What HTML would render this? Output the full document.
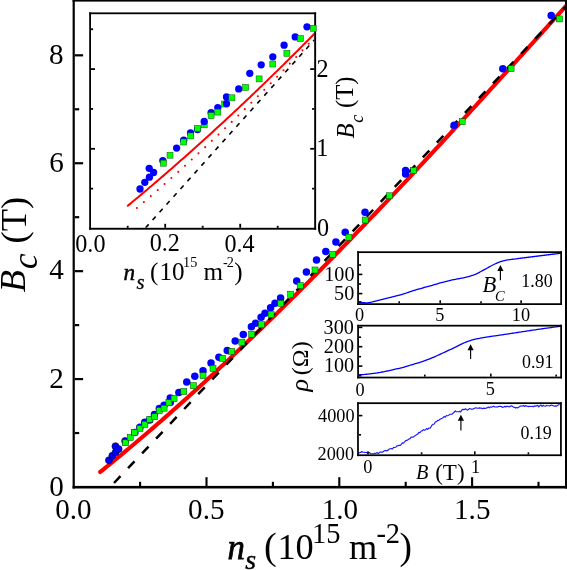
<!DOCTYPE html>
<html><head><meta charset="utf-8"><style>
html,body{margin:0;padding:0;background:#fff;}
svg{display:block;font-family:"Liberation Serif",serif;}
svg{will-change:transform;}
</style></head><body>
<svg width="567" height="570" viewBox="0 0 567 570">
<rect width="567" height="570" fill="#fff"/>
<defs><clipPath id="cm"><rect x="74.8" y="1.6" width="490.2" height="484.3"/></clipPath><clipPath id="ci"><rect x="91" y="14.2" width="223.2" height="213.6"/></clipPath></defs>
<g clip-path="url(#cm)">
<polyline points="100.21,471.97 102.57,470.07 104.93,468.16 107.29,466.25 109.66,464.33 112.02,462.4 114.38,460.47 116.75,458.52 119.11,456.58 121.47,454.62 123.83,452.66 126.2,450.7 128.56,448.72 130.92,446.74 133.28,444.76 135.65,442.77 138.01,440.77 140.37,438.76 142.73,436.75 145.1,434.74 147.46,432.71 149.82,430.68 152.18,428.65 154.55,426.61 156.91,424.56 159.27,422.51 161.64,420.45 164,418.38 166.36,416.31 168.72,414.23 171.09,412.15 173.45,410.06 175.81,407.97 178.17,405.87 180.54,403.76 182.9,401.65 185.26,399.53 187.62,397.41 189.99,395.28 192.35,393.14 194.71,391 197.08,388.86 199.44,386.71 201.8,384.55 204.16,382.39 206.53,380.22 208.89,378.05 211.25,375.87 213.61,373.69 215.98,371.5 218.34,369.31 220.7,367.11 223.06,364.91 225.43,362.7 227.79,360.48 230.15,358.26 232.51,356.04 234.88,353.81 237.24,351.57 239.6,349.34 241.97,347.09 244.33,344.84 246.69,342.59 249.05,340.33 251.42,338.06 253.78,335.8 256.14,333.52 258.5,331.24 260.87,328.96 263.23,326.67 265.59,324.38 267.95,322.09 270.32,319.78 272.68,317.48 275.04,315.17 277.4,312.85 279.77,310.53 282.13,308.21 284.49,305.88 286.86,303.55 289.22,301.21 291.58,298.87 293.94,296.53 296.31,294.18 298.67,291.82 301.03,289.47 303.39,287.1 305.76,284.74 308.12,282.37 310.48,279.99 312.84,277.62 315.21,275.23 317.57,272.85 319.93,270.46 322.29,268.06 324.66,265.66 327.02,263.26 329.38,260.86 331.75,258.45 334.11,256.03 336.47,253.62 338.83,251.2 341.2,248.77 343.56,246.34 345.92,243.91 348.28,241.48 350.65,239.04 353.01,236.6 355.37,234.15 357.73,231.7 360.1,229.25 362.46,226.79 364.82,224.34 367.19,221.87 369.55,219.41 371.91,216.94 374.27,214.47 376.64,211.99 379,209.51 381.36,207.03 383.72,204.54 386.09,202.06 388.45,199.57 390.81,197.07 393.17,194.57 395.54,192.07 397.9,189.57 400.26,187.06 402.62,184.56 404.99,182.04 407.35,179.53 409.71,177.01 412.08,174.49 414.44,171.97 416.8,169.44 419.16,166.92 421.53,164.39 423.89,161.85 426.25,159.32 428.61,156.78 430.98,154.24 433.34,151.69 435.7,149.15 438.06,146.6 440.43,144.05 442.79,141.5 445.15,138.94 447.51,136.38 449.88,133.82 452.24,131.26 454.6,128.7 456.97,126.13 459.33,123.56 461.69,120.99 464.05,118.42 466.42,115.84 468.78,113.27 471.14,110.69 473.5,108.11 475.87,105.52 478.23,102.94 480.59,100.35 482.95,97.76 485.32,95.17 487.68,92.58 490.04,89.99 492.4,87.39 494.77,84.8 497.13,82.2 499.49,79.6 501.86,76.99 504.22,74.39 506.58,71.79 508.94,69.18 511.31,66.57 513.67,63.96 516.03,61.35 518.39,58.74 520.76,56.13 523.12,53.51 525.48,50.89 527.84,48.28 530.21,45.66 532.57,43.04 534.93,40.42 537.3,37.79 539.66,35.17 542.02,32.55 544.38,29.92 546.75,27.29 549.11,24.67 551.47,22.04 553.83,19.41 556.2,16.78 558.56,14.15 560.92,11.52 563.28,8.88 565.65,6.25 568.01,3.61 570.37,0.98" fill="none" stroke="#f00" stroke-width="4.1" stroke-linecap="round" stroke-linejoin="round"/>
<line x1="110.22" y1="487" x2="578.34" y2="-6.59" stroke="#000" stroke-width="2.5" stroke-dasharray="9.4 11.0" stroke-dashoffset="-5.5"/>
<circle cx="108.97" cy="460.26" r="3.55" fill="#00f" stroke="#000030" stroke-width="0.6"/>
<circle cx="112.37" cy="455.72" r="3.55" fill="#00f" stroke="#000030" stroke-width="0.6"/>
<circle cx="115.63" cy="452.27" r="3.55" fill="#00f" stroke="#000030" stroke-width="0.6"/>
<circle cx="115.49" cy="446.24" r="3.55" fill="#00f" stroke="#000030" stroke-width="0.6"/>
<circle cx="118.6" cy="449.09" r="3.55" fill="#00f" stroke="#000030" stroke-width="0.6"/>
<circle cx="125.12" cy="441.03" r="3.55" fill="#00f" stroke="#000030" stroke-width="0.6"/>
<circle cx="134.89" cy="432.57" r="3.75" fill="#00f"/>
<circle cx="139.92" cy="427.22" r="3.75" fill="#00f"/>
<circle cx="144.74" cy="422.34" r="3.75" fill="#00f"/>
<circle cx="149.7" cy="419.97" r="3.75" fill="#00f"/>
<circle cx="154.44" cy="414.56" r="3.75" fill="#00f"/>
<circle cx="159.33" cy="408.6" r="3.75" fill="#00f"/>
<circle cx="164.07" cy="405.15" r="3.75" fill="#00f"/>
<circle cx="170.24" cy="397.97" r="3.75" fill="#00f"/>
<circle cx="170.24" cy="402.51" r="3.75" fill="#00f"/>
<circle cx="178.88" cy="392.49" r="3.75" fill="#00f"/>
<circle cx="186.74" cy="381.92" r="3.75" fill="#00f"/>
<circle cx="194.81" cy="376.17" r="3.75" fill="#00f"/>
<circle cx="203.03" cy="370.75" r="3.75" fill="#00f"/>
<circle cx="211.03" cy="362.9" r="3.75" fill="#00f"/>
<circle cx="218.89" cy="357.28" r="3.75" fill="#00f"/>
<circle cx="227.25" cy="350.44" r="3.75" fill="#00f"/>
<circle cx="235.2" cy="340.9" r="3.75" fill="#00f"/>
<circle cx="243.3" cy="334.4" r="3.75" fill="#00f"/>
<circle cx="251.4" cy="326.7" r="3.75" fill="#00f"/>
<circle cx="255.6" cy="323.3" r="3.75" fill="#00f"/>
<circle cx="261.1" cy="317.2" r="3.75" fill="#00f"/>
<circle cx="265" cy="313.3" r="3.75" fill="#00f"/>
<circle cx="270.6" cy="307.8" r="3.75" fill="#00f"/>
<circle cx="275" cy="303.3" r="3.75" fill="#00f"/>
<circle cx="280.6" cy="298" r="3.75" fill="#00f"/>
<circle cx="296.7" cy="281.1" r="3.75" fill="#00f"/>
<circle cx="306.4" cy="272" r="3.75" fill="#00f"/>
<circle cx="316.5" cy="260.1" r="3.75" fill="#00f"/>
<circle cx="325.8" cy="251.5" r="3.75" fill="#00f"/>
<circle cx="335.9" cy="242" r="3.75" fill="#00f"/>
<circle cx="345.2" cy="232.2" r="3.75" fill="#00f"/>
<circle cx="365" cy="212.3" r="3.75" fill="#00f"/>
<circle cx="405.6" cy="170.6" r="3.75" fill="#00f"/>
<circle cx="405.6" cy="173.9" r="3.75" fill="#00f"/>
<circle cx="454.1" cy="125.3" r="3.75" fill="#00f"/>
<circle cx="502.8" cy="68.7" r="3.75" fill="#00f"/>
<circle cx="551.2" cy="15.6" r="3.75" fill="#00f"/>
<rect x="122.55" y="439.79" width="6.0" height="6.0" fill="#0f0" stroke="#004000" stroke-width="0.5"/>
<rect x="127.22" y="434.37" width="6.0" height="6.0" fill="#0f0" stroke="#004000" stroke-width="0.5"/>
<rect x="136.92" y="425.44" width="6.0" height="6.0" fill="#0f0" stroke="#004000" stroke-width="0.5"/>
<rect x="141.88" y="421.31" width="6.0" height="6.0" fill="#0f0" stroke="#004000" stroke-width="0.5"/>
<rect x="146.77" y="416.23" width="6.0" height="6.0" fill="#0f0" stroke="#004000" stroke-width="0.5"/>
<rect x="151.44" y="413.79" width="6.0" height="6.0" fill="#0f0" stroke="#004000" stroke-width="0.5"/>
<rect x="156.33" y="407.56" width="6.0" height="6.0" fill="#0f0" stroke="#004000" stroke-width="0.5"/>
<rect x="161.07" y="405.19" width="6.0" height="6.0" fill="#0f0" stroke="#004000" stroke-width="0.5"/>
<rect x="165.89" y="399.71" width="6.0" height="6.0" fill="#0f0" stroke="#004000" stroke-width="0.5"/>
<rect x="171.06" y="395.51" width="6.0" height="6.0" fill="#0f0" stroke="#004000" stroke-width="0.5"/>
<rect x="180.76" y="388.47" width="6.0" height="6.0" fill="#0f0" stroke="#004000" stroke-width="0.5"/>
<rect x="190.33" y="382.71" width="6.0" height="6.0" fill="#0f0" stroke="#004000" stroke-width="0.5"/>
<rect x="200.03" y="372.63" width="6.0" height="6.0" fill="#0f0" stroke="#004000" stroke-width="0.5"/>
<rect x="210.02" y="365.38" width="6.0" height="6.0" fill="#0f0" stroke="#004000" stroke-width="0.5"/>
<rect x="219.58" y="355.36" width="6.0" height="6.0" fill="#0f0" stroke="#004000" stroke-width="0.5"/>
<rect x="228.71" y="348.39" width="6.0" height="6.0" fill="#0f0" stroke="#004000" stroke-width="0.5"/>
<rect x="238.9" y="339.2" width="6.0" height="6.0" fill="#0f0" stroke="#004000" stroke-width="0.5"/>
<rect x="248.7" y="331.2" width="6.0" height="6.0" fill="#0f0" stroke="#004000" stroke-width="0.5"/>
<rect x="258.4" y="321.7" width="6.0" height="6.0" fill="#0f0" stroke="#004000" stroke-width="0.5"/>
<rect x="268.1" y="311.7" width="6.0" height="6.0" fill="#0f0" stroke="#004000" stroke-width="0.5"/>
<rect x="277.8" y="300.3" width="6.0" height="6.0" fill="#0f0" stroke="#004000" stroke-width="0.5"/>
<rect x="287.6" y="291.2" width="6.0" height="6.0" fill="#0f0" stroke="#004000" stroke-width="0.5"/>
<rect x="297.2" y="282.6" width="6.0" height="6.0" fill="#0f0" stroke="#004000" stroke-width="0.5"/>
<rect x="312" y="267" width="6.0" height="6.0" fill="#0f0" stroke="#004000" stroke-width="0.5"/>
<rect x="329.8" y="251.4" width="6.0" height="6.0" fill="#0f0" stroke="#004000" stroke-width="0.5"/>
<rect x="345.9" y="234.2" width="6.0" height="6.0" fill="#0f0" stroke="#004000" stroke-width="0.5"/>
<rect x="362.2" y="217" width="6.0" height="6.0" fill="#0f0" stroke="#004000" stroke-width="0.5"/>
<rect x="386.4" y="192.8" width="6.0" height="6.0" fill="#0f0" stroke="#004000" stroke-width="0.5"/>
<rect x="410.7" y="167.6" width="6.0" height="6.0" fill="#0f0" stroke="#004000" stroke-width="0.5"/>
<rect x="459.2" y="118.7" width="6.0" height="6.0" fill="#0f0" stroke="#004000" stroke-width="0.5"/>
<rect x="508.1" y="65.6" width="6.0" height="6.0" fill="#0f0" stroke="#004000" stroke-width="0.5"/>
<rect x="556.5" y="15.9" width="6.0" height="6.0" fill="#0f0" stroke="#004000" stroke-width="0.5"/>
<rect x="131.6" y="429.5" width="6.0" height="6.0" fill="#0f0" stroke="#004000" stroke-width="0.5"/>
</g>
<rect x="72.6" y="0" width="2.2" height="488.5" fill="#000"/>
<rect x="72.6" y="485.9" width="494.4" height="2.6" fill="#000"/>
<rect x="565" y="0" width="2" height="488.5" fill="#000"/>
<rect x="72.6" y="0" width="494.4" height="1.6" fill="#000"/>
<rect x="74.8" y="377.98" width="8.3" height="2.2" fill="#000"/>
<rect x="74.8" y="270.06" width="8.3" height="2.2" fill="#000"/>
<rect x="74.8" y="162.14" width="8.3" height="2.2" fill="#000"/>
<rect x="74.8" y="54.22" width="8.3" height="2.2" fill="#000"/>
<rect x="74.8" y="431.94" width="4.4" height="2.2" fill="#000"/>
<rect x="74.8" y="324.02" width="4.4" height="2.2" fill="#000"/>
<rect x="74.8" y="216.1" width="4.4" height="2.2" fill="#000"/>
<rect x="74.8" y="108.18" width="4.4" height="2.2" fill="#000"/>
<rect x="205.45" y="477.2" width="2.1" height="8.8" fill="#000"/>
<rect x="338.25" y="477.2" width="2.1" height="8.8" fill="#000"/>
<rect x="471.05" y="477.2" width="2.1" height="8.8" fill="#000"/>
<rect x="139.05" y="481.8" width="2.1" height="4.2" fill="#000"/>
<rect x="271.85" y="481.8" width="2.1" height="4.2" fill="#000"/>
<rect x="404.65" y="481.8" width="2.1" height="4.2" fill="#000"/>
<rect x="537.45" y="481.8" width="2.1" height="4.2" fill="#000"/>
<rect x="90.1" y="13.3" width="225.1" height="215.5" fill="#fff"/>
<g clip-path="url(#ci)">
<polyline points="127.8,205.76 129.47,204.38 131.14,202.99 132.81,201.6 134.48,200.21 136.15,198.82 137.82,197.42 139.49,196.02 141.15,194.62 142.82,193.21 144.49,191.8 146.16,190.39 147.83,188.98 149.5,187.56 151.17,186.14 152.84,184.72 154.51,183.3 156.18,181.87 157.85,180.44 159.52,179 161.19,177.57 162.86,176.13 164.53,174.68 166.19,173.24 167.86,171.79 169.53,170.34 171.2,168.89 172.87,167.43 174.54,165.97 176.21,164.51 177.88,163.05 179.55,161.58 181.22,160.11 182.89,158.63 184.56,157.16 186.23,155.68 187.9,154.2 189.57,152.71 191.23,151.23 192.9,149.74 194.57,148.24 196.24,146.75 197.91,145.25 199.58,143.75 201.25,142.24 202.92,140.74 204.59,139.23 206.26,137.71 207.93,136.2 209.6,134.68 211.27,133.16 212.94,131.64 214.61,130.11 216.27,128.58 217.94,127.05 219.61,125.51 221.28,123.97 222.95,122.43 224.62,120.89 226.29,119.34 227.96,117.79 229.63,116.24 231.3,114.69 232.97,113.13 234.64,111.57 236.31,110 237.98,108.44 239.64,106.87 241.31,105.3 242.98,103.72 244.65,102.15 246.32,100.57 247.99,98.98 249.66,97.4 251.33,95.81 253,94.22 254.67,92.62 256.34,91.03 258.01,89.43 259.68,87.82 261.35,86.22 263.02,84.61 264.68,83 266.35,81.38 268.02,79.77 269.69,78.15 271.36,76.52 273.03,74.9 274.7,73.27 276.37,71.64 278.04,70.01 279.71,68.37 281.38,66.73 283.05,65.09 284.72,63.44 286.39,61.79 288.06,60.14 289.72,58.49 291.39,56.83 293.06,55.18 294.73,53.51 296.4,51.85 298.07,50.18 299.74,48.51 301.41,46.84 303.08,45.16 304.75,43.48 306.42,41.8 308.09,40.12 309.76,38.43 311.43,36.74 313.1,35.05 314.76,33.35 316.43,31.65 318.1,29.95 319.77,28.25 321.44,26.54 323.11,24.83 324.78,23.12 326.45,21.4" fill="none" stroke="#f00" stroke-width="2" stroke-linecap="round"/>
<polyline points="136.9,208.02 138.49,206.67 140.09,205.31 141.68,203.95 143.27,202.59 144.86,201.22 146.46,199.85 148.05,198.48 149.64,197.1 151.24,195.72 152.83,194.34 154.42,192.95 156.01,191.56 157.61,190.17 159.2,188.77 160.79,187.38 162.39,185.97 163.98,184.57 165.57,183.16 167.16,181.75 168.76,180.34 170.35,178.92 171.94,177.5 173.54,176.07 175.13,174.65 176.72,173.22 178.31,171.78 179.91,170.35 181.5,168.91 183.09,167.47 184.69,166.02 186.28,164.57 187.87,163.12 189.46,161.66 191.06,160.2 192.65,158.74 194.24,157.28 195.84,155.81 197.43,154.34 199.02,152.87 200.61,151.39 202.21,149.91 203.8,148.42 205.39,146.94 206.99,145.45 208.58,143.95 210.17,142.46 211.76,140.96 213.36,139.46 214.95,137.95 216.54,136.44 218.14,134.93 219.73,133.42 221.32,131.9 222.91,130.38 224.51,128.85 226.1,127.32 227.69,125.79 229.29,124.26 230.88,122.72 232.47,121.18 234.06,119.64 235.66,118.09 237.25,116.54 238.84,114.99 240.44,113.43 242.03,111.87 243.62,110.31 245.21,108.75 246.81,107.18 248.4,105.6 249.99,104.03 251.59,102.45 253.18,100.87 254.77,99.29 256.36,97.7 257.96,96.11 259.55,94.51 261.14,92.92 262.74,91.32 264.33,89.71 265.92,88.11 267.51,86.5 269.11,84.88 270.7,83.27 272.29,81.65 273.89,80.03 275.48,78.4 277.07,76.77 278.66,75.14 280.26,73.51 281.85,71.87 283.44,70.23 285.04,68.58 286.63,66.94 288.22,65.28 289.81,63.63 291.41,61.97 293,60.31 294.59,58.65 296.19,56.98 297.78,55.32 299.37,53.64 300.96,51.97 302.56,50.29 304.15,48.61 305.74,46.92 307.34,45.23 308.93,43.54 310.52,41.85 312.11,40.15 313.71,38.45 315.3,36.74 316.89,35.04 318.49,33.32 320.08,31.61 321.67,29.89 323.26,28.17 324.86,26.45 326.45,24.73" fill="none" stroke="#f00" stroke-width="2.1" stroke-linecap="round" stroke-dasharray="0 9.15"/>
<line x1="145.6" y1="227.8" x2="317" y2="36.95" stroke="#000" stroke-width="1.6" stroke-dasharray="4.6 5.85"/>
<circle cx="140" cy="189" r="3.65" fill="#00f"/>
<circle cx="144.8" cy="182.3" r="3.65" fill="#00f"/>
<circle cx="149.4" cy="177.2" r="3.65" fill="#00f"/>
<circle cx="149.2" cy="168.3" r="3.65" fill="#00f"/>
<circle cx="153.6" cy="172.5" r="3.65" fill="#00f"/>
<circle cx="162.8" cy="160.6" r="3.65" fill="#00f"/>
<circle cx="183.7" cy="140.2" r="3.65" fill="#00f"/>
<circle cx="190.5" cy="133" r="3.65" fill="#00f"/>
<circle cx="197.5" cy="129.5" r="3.65" fill="#00f"/>
<circle cx="211.1" cy="112.7" r="3.65" fill="#00f"/>
<circle cx="217.8" cy="107.6" r="3.65" fill="#00f"/>
<circle cx="226.5" cy="97" r="3.65" fill="#00f"/>
<circle cx="295.2" cy="36.9" r="3.65" fill="#00f"/>
<circle cx="307" cy="26.8" r="3.65" fill="#00f"/>
<rect x="160.4" y="160.2" width="6.0" height="6.0" fill="#0f0" stroke="#006000" stroke-width="0.5"/>
<rect x="167" y="152.2" width="6.0" height="6.0" fill="#0f0" stroke="#006000" stroke-width="0.5"/>
<rect x="180.7" y="139" width="6.0" height="6.0" fill="#0f0" stroke="#006000" stroke-width="0.5"/>
<rect x="187.7" y="132.9" width="6.0" height="6.0" fill="#0f0" stroke="#006000" stroke-width="0.5"/>
<rect x="194.6" y="125.4" width="6.0" height="6.0" fill="#0f0" stroke="#006000" stroke-width="0.5"/>
<rect x="201.2" y="121.8" width="6.0" height="6.0" fill="#0f0" stroke="#006000" stroke-width="0.5"/>
<rect x="208.1" y="112.6" width="6.0" height="6.0" fill="#0f0" stroke="#006000" stroke-width="0.5"/>
<rect x="214.8" y="109.1" width="6.0" height="6.0" fill="#0f0" stroke="#006000" stroke-width="0.5"/>
<rect x="221.6" y="101" width="6.0" height="6.0" fill="#0f0" stroke="#006000" stroke-width="0.5"/>
<rect x="228.9" y="94.8" width="6.0" height="6.0" fill="#0f0" stroke="#006000" stroke-width="0.5"/>
<rect x="242.6" y="84.4" width="6.0" height="6.0" fill="#0f0" stroke="#006000" stroke-width="0.5"/>
<rect x="256.1" y="75.9" width="6.0" height="6.0" fill="#0f0" stroke="#006000" stroke-width="0.5"/>
<rect x="269.8" y="61" width="6.0" height="6.0" fill="#0f0" stroke="#006000" stroke-width="0.5"/>
<rect x="283.9" y="50.3" width="6.0" height="6.0" fill="#0f0" stroke="#006000" stroke-width="0.5"/>
<rect x="297.4" y="35.5" width="6.0" height="6.0" fill="#0f0" stroke="#006000" stroke-width="0.5"/>
<circle cx="176.6" cy="148.1" r="3.65" fill="#00f"/>
<circle cx="204.2" cy="121.5" r="3.65" fill="#00f"/>
<circle cx="226.5" cy="103.7" r="3.65" fill="#00f"/>
<circle cx="238.7" cy="88.9" r="3.65" fill="#00f"/>
<circle cx="249.8" cy="73.3" r="3.65" fill="#00f"/>
<circle cx="261.2" cy="64.8" r="3.65" fill="#00f"/>
<circle cx="272.8" cy="56.8" r="3.65" fill="#00f"/>
<circle cx="284.1" cy="45.2" r="3.65" fill="#00f"/>
</g>
<rect x="89.2" y="12.4" width="1.8" height="217.3" fill="#000"/>
<rect x="314.2" y="12.4" width="1.9" height="217.3" fill="#000"/>
<rect x="89.2" y="12.4" width="226.9" height="1.8" fill="#000"/>
<rect x="89.2" y="227.8" width="226.9" height="1.9" fill="#000"/>
<rect x="91" y="147.9" width="4" height="1.8" fill="#000"/>
<rect x="310.2" y="147.9" width="4" height="1.8" fill="#000"/>
<rect x="91" y="68.2" width="4" height="1.8" fill="#000"/>
<rect x="310.2" y="68.2" width="4" height="1.8" fill="#000"/>
<rect x="91" y="187.75" width="2.1" height="1.8" fill="#000"/>
<rect x="312.1" y="187.75" width="2.1" height="1.8" fill="#000"/>
<rect x="91" y="108.05" width="2.1" height="1.8" fill="#000"/>
<rect x="312.1" y="108.05" width="2.1" height="1.8" fill="#000"/>
<rect x="91" y="28.35" width="2.1" height="1.8" fill="#000"/>
<rect x="312.1" y="28.35" width="2.1" height="1.8" fill="#000"/>
<rect x="164.3" y="223.8" width="1.8" height="4" fill="#000"/>
<rect x="239.3" y="223.8" width="1.8" height="4" fill="#000"/>
<rect x="126.8" y="225.8" width="1.8" height="2" fill="#000"/>
<rect x="201.8" y="225.8" width="1.8" height="2" fill="#000"/>
<rect x="276.8" y="225.8" width="1.8" height="2" fill="#000"/>
<rect x="310.4" y="25.25" width="5.8" height="6.0" fill="#0f0" stroke="#006000" stroke-width="0.5"/>
<rect x="357.2" y="251.3" width="204.8" height="53.7" fill="#fff"/>
<rect x="357.2" y="324.8" width="204.8" height="53.6" fill="#fff"/>
<rect x="357.1" y="402.3" width="204.7" height="53.8" fill="#fff"/>
<polyline points="358.4,302 359.4,302.26 360.4,302.5 361.4,302.65 362.4,302.71 363.4,302.75 364.4,302.77 365.4,302.79 366.4,302.8 367.4,302.79 368.4,302.7 369.4,302.54 370.4,302.34 371.4,302.12 372.4,301.92 373.4,301.68 374.4,301.42 375.4,301.15 376.4,300.9 377.4,300.66 378.4,300.41 379.4,300.17 380.4,299.93 381.4,299.68 382.4,299.44 383.4,299.2 384.4,298.95 385.4,298.7 386.4,298.45 387.4,298.2 388.4,297.94 389.4,297.69 390.4,297.43 391.4,297.17 392.4,296.92 393.4,296.66 394.4,296.4 395.4,296.14 396.4,295.88 397.4,295.62 398.4,295.37 399.4,295.1 400.4,294.84 401.4,294.56 402.4,294.28 403.4,293.98 404.4,293.67 405.4,293.34 406.4,293 407.4,292.66 408.4,292.31 409.4,291.96 410.4,291.62 411.4,291.29 412.4,290.97 413.4,290.66 414.4,290.35 415.4,290.05 416.4,289.74 417.4,289.44 418.4,289.15 419.4,288.86 420.4,288.57 421.4,288.29 422.4,288.01 423.4,287.75 424.4,287.49 425.4,287.23 426.4,286.97 427.4,286.71 428.4,286.44 429.4,286.17 430.4,285.89 431.4,285.59 432.4,285.29 433.4,284.99 434.4,284.68 435.4,284.37 436.4,284.07 437.4,283.77 438.4,283.47 439.4,283.19 440.4,282.91 441.4,282.63 442.4,282.35 443.4,282.08 444.4,281.81 445.4,281.55 446.4,281.29 447.4,281.04 448.4,280.81 449.4,280.58 450.4,280.36 451.4,280.14 452.4,279.93 453.4,279.73 454.4,279.52 455.4,279.32 456.4,279.13 457.4,278.94 458.4,278.76 459.4,278.58 460.4,278.4 461.4,278.22 462.4,278.03 463.4,277.82 464.4,277.6 465.4,277.37 466.4,277.13 467.4,276.88 468.4,276.61 469.4,276.34 470.4,276.05 471.4,275.74 472.4,275.42 473.4,275.08 474.4,274.71 475.4,274.3 476.4,273.85 477.4,273.36 478.4,272.84 479.4,272.31 480.4,271.76 481.4,271.22 482.4,270.68 483.4,270.15 484.4,269.62 485.4,269.07 486.4,268.51 487.4,267.95 488.4,267.39 489.4,266.83 490.4,266.29 491.4,265.76 492.4,265.25 493.4,264.76 494.4,264.26 495.4,263.77 496.4,263.3 497.4,262.84 498.4,262.41 499.4,262.02 500.4,261.67 501.4,261.35 502.4,261.05 503.4,260.77 504.4,260.52 505.4,260.3 506.4,260.11 507.4,259.94 508.4,259.79 509.4,259.65 510.4,259.52 511.4,259.39 512.4,259.27 513.4,259.15 514.4,259.03 515.4,258.9 516.4,258.77 517.4,258.64 518.4,258.51 519.4,258.38 520.4,258.26 521.4,258.13 522.4,258.01 523.4,257.88 524.4,257.76 525.4,257.64 526.4,257.51 527.4,257.39 528.4,257.26 529.4,257.14 530.4,257.01 531.4,256.89 532.4,256.76 533.4,256.63 534.4,256.51 535.4,256.38 536.4,256.25 537.4,256.13 538.4,256 539.4,255.88 540.4,255.75 541.4,255.62 542.4,255.5 543.4,255.37 544.4,255.25 545.4,255.12 546.4,255 547.4,254.88 548.4,254.75 549.4,254.63 550.4,254.51 551.4,254.39 552.4,254.26 553.4,254.14 554.4,254.02 555.4,253.9 556.4,253.78 557.4,253.66 558.4,253.54 559.4,253.42 560.4,253.3 561.2,253.2" fill="none" stroke="#00f" stroke-width="1.3" stroke-linejoin="round"/>
<polyline points="358.4,374.9 359.4,374.84 360.4,374.77 361.4,374.69 362.4,374.61 363.4,374.53 364.4,374.44 365.4,374.35 366.4,374.26 367.4,374.16 368.4,374.06 369.4,373.95 370.4,373.83 371.4,373.72 372.4,373.59 373.4,373.46 374.4,373.33 375.4,373.19 376.4,373.04 377.4,372.89 378.4,372.73 379.4,372.55 380.4,372.38 381.4,372.19 382.4,372.01 383.4,371.81 384.4,371.62 385.4,371.42 386.4,371.21 387.4,371 388.4,370.78 389.4,370.56 390.4,370.33 391.4,370.1 392.4,369.87 393.4,369.64 394.4,369.41 395.4,369.18 396.4,368.96 397.4,368.74 398.4,368.51 399.4,368.28 400.4,368.05 401.4,367.81 402.4,367.56 403.4,367.29 404.4,367.02 405.4,366.73 406.4,366.43 407.4,366.12 408.4,365.81 409.4,365.5 410.4,365.19 411.4,364.88 412.4,364.58 413.4,364.29 414.4,363.99 415.4,363.7 416.4,363.41 417.4,363.12 418.4,362.82 419.4,362.51 420.4,362.2 421.4,361.87 422.4,361.53 423.4,361.18 424.4,360.83 425.4,360.46 426.4,360.09 427.4,359.71 428.4,359.33 429.4,358.94 430.4,358.54 431.4,358.13 432.4,357.71 433.4,357.29 434.4,356.85 435.4,356.41 436.4,355.97 437.4,355.52 438.4,355.07 439.4,354.62 440.4,354.16 441.4,353.7 442.4,353.23 443.4,352.76 444.4,352.29 445.4,351.82 446.4,351.35 447.4,350.88 448.4,350.42 449.4,349.96 450.4,349.51 451.4,349.06 452.4,348.61 453.4,348.15 454.4,347.69 455.4,347.21 456.4,346.7 457.4,346.18 458.4,345.65 459.4,345.12 460.4,344.61 461.4,344.11 462.4,343.64 463.4,343.2 464.4,342.77 465.4,342.34 466.4,341.93 467.4,341.54 468.4,341.17 469.4,340.82 470.4,340.51 471.4,340.21 472.4,339.94 473.4,339.67 474.4,339.43 475.4,339.19 476.4,338.96 477.4,338.74 478.4,338.53 479.4,338.33 480.4,338.14 481.4,337.95 482.4,337.78 483.4,337.6 484.4,337.43 485.4,337.27 486.4,337.11 487.4,336.95 488.4,336.8 489.4,336.65 490.4,336.5 491.4,336.36 492.4,336.22 493.4,336.08 494.4,335.94 495.4,335.8 496.4,335.66 497.4,335.52 498.4,335.38 499.4,335.23 500.4,335.09 501.4,334.94 502.4,334.79 503.4,334.63 504.4,334.48 505.4,334.33 506.4,334.18 507.4,334.03 508.4,333.87 509.4,333.72 510.4,333.57 511.4,333.41 512.4,333.26 513.4,333.11 514.4,332.95 515.4,332.8 516.4,332.65 517.4,332.49 518.4,332.34 519.4,332.19 520.4,332.03 521.4,331.88 522.4,331.73 523.4,331.57 524.4,331.42 525.4,331.27 526.4,331.12 527.4,330.97 528.4,330.81 529.4,330.66 530.4,330.51 531.4,330.37 532.4,330.22 533.4,330.07 534.4,329.92 535.4,329.77 536.4,329.63 537.4,329.48 538.4,329.33 539.4,329.19 540.4,329.04 541.4,328.9 542.4,328.75 543.4,328.61 544.4,328.47 545.4,328.33 546.4,328.19 547.4,328.05 548.4,327.91 549.4,327.77 550.4,327.64 551.4,327.5 552.4,327.36 553.4,327.23 554.4,327.09 555.4,326.96 556.4,326.83 557.4,326.7 558.4,326.56 559.4,326.43 560.4,326.3 561.2,326.2" fill="none" stroke="#00f" stroke-width="1.3" stroke-linejoin="round"/>
<polyline points="358.4,453.3 359.5,452.65 360.6,452.46 361.7,451.53 362.8,452.2 363.9,452.21 365,452.47 366.1,452.37 367.2,452.77 368.3,452.72 369.4,452.49 370.5,453.62 371.6,453.76 372.7,453.8 373.8,453.67 374.9,453.43 376,453.22 377.1,452.63 378.2,453.62 379.3,452.54 380.4,452.07 381.5,451.96 382.6,452.17 383.7,451.25 384.8,450.56 385.9,450.58 387,450.97 388.1,450.01 389.2,449.12 390.3,448.75 391.4,448.62 392.5,449 393.6,447.38 394.7,447.49 395.8,447.24 396.9,445.86 398,445.88 399.1,445.18 400.2,445.5 401.3,444.27 402.4,442.87 403.5,443.16 404.6,441.97 405.7,440.62 406.8,440.41 407.9,439.74 409,438.94 410.1,438.67 411.2,436.98 412.3,437.16 413.4,436.94 414.5,436.08 415.6,435.4 416.7,434.61 417.8,434.07 418.9,432.36 420,432.71 421.1,430.95 422.2,430.94 423.3,429.68 424.4,430.34 425.5,429.79 426.6,428.57 427.7,429.3 428.8,428.05 429.9,428.27 431,426.89 432.1,424.97 433.2,424.27 434.3,423.95 435.4,421.76 436.5,421.77 437.6,420.44 438.7,420.45 439.8,419.3 440.9,418.88 442,418.35 443.1,417.67 444.2,416.42 445.3,417.2 446.4,415.49 447.5,415.74 448.6,415.44 449.7,414.32 450.8,414.27 451.9,414.23 453,413.19 454.1,412.31 455.2,410.97 456.3,411.73 457.4,411.78 458.5,411.7 459.6,411.38 460.7,411.87 461.8,410.04 462.9,409.33 464,409.65 465.1,408.91 466.2,409.12 467.3,410.18 468.4,409.56 469.5,408.54 470.6,408.98 471.7,409.1 472.8,409.22 473.9,408.56 475,408.08 476.1,407.81 477.2,408.25 478.3,408.11 479.4,407.86 480.5,408.12 481.6,408.13 482.7,408.76 483.8,408.08 484.9,408.35 486,408.27 487.1,407.85 488.2,407.01 489.3,407.79 490.4,406.82 491.5,407.26 492.6,406.67 493.7,406.17 494.8,406.99 495.9,406.96 497,406.74 498.1,406.84 499.2,406.37 500.3,406.27 501.4,406.52 502.5,407.46 503.6,406.97 504.7,406.37 505.8,406.85 506.9,406.38 508,406.39 509.1,406.99 510.2,406.36 511.3,405.85 512.4,406.37 513.5,407.07 514.6,407.34 515.7,408.09 516.8,407.46 517.9,407.87 519,407.08 520.1,406.17 521.2,406.1 522.3,406.04 523.4,405.54 524.5,406.51 525.6,405.59 526.7,406.27 527.8,406.35 528.9,406.64 530,406.23 531.1,406.53 532.2,406.37 533.3,406.78 534.4,405.87 535.5,406.15 536.6,405.9 537.7,405.33 538.8,407.01 539.9,405.67 541,405.07 542.1,406.4 543.2,405.32 544.3,406.01 545.4,406.26 546.5,405.62 547.6,405.75 548.7,405.74 549.8,405.92 550.9,405.19 552,405.3 553.1,405.74 554.2,406.21 555.3,405.93 556.4,406.21 557.5,405.53 558.6,404.78 559.7,404.74" fill="none" stroke="#1a1aff" stroke-width="1.15" stroke-linejoin="round"/>
<rect x="358.9" y="301.0" width="2.6" height="2.2" fill="#0000a0"/>
<rect x="358.9" y="374.3" width="2.6" height="2.2" fill="#0000a0"/>
<rect x="357.2" y="251.3" width="1.75" height="53.7" fill="#000"/>
<rect x="560.25" y="251.3" width="1.75" height="53.7" fill="#000"/>
<rect x="357.2" y="251.3" width="204.8" height="1.75" fill="#000"/>
<rect x="357.2" y="303.25" width="204.8" height="1.75" fill="#000"/>
<rect x="357.2" y="324.8" width="1.75" height="53.6" fill="#000"/>
<rect x="560.25" y="324.8" width="1.75" height="53.6" fill="#000"/>
<rect x="357.2" y="324.8" width="204.8" height="1.75" fill="#000"/>
<rect x="357.2" y="376.65" width="204.8" height="1.75" fill="#000"/>
<rect x="357.1" y="402.3" width="1.75" height="53.8" fill="#000"/>
<rect x="560.05" y="402.3" width="1.75" height="53.8" fill="#000"/>
<rect x="357.1" y="402.3" width="204.7" height="1.75" fill="#000"/>
<rect x="357.1" y="454.35" width="204.7" height="1.75" fill="#000"/>
<rect x="358.95" y="273.6" width="3.4" height="1.6" fill="#000"/>
<rect x="358.95" y="292.8" width="3.4" height="1.6" fill="#000"/>
<rect x="358.95" y="264.2" width="2.1" height="1.6" fill="#000"/>
<rect x="358.95" y="283.2" width="2.1" height="1.6" fill="#000"/>
<rect x="439.4" y="300.3" width="1.6" height="3" fill="#000"/>
<rect x="520.3" y="300.3" width="1.6" height="3" fill="#000"/>
<rect x="398.4" y="301.3" width="1.6" height="2" fill="#000"/>
<rect x="480.2" y="301.3" width="1.6" height="2" fill="#000"/>
<rect x="358.95" y="326.6" width="3.4" height="1.6" fill="#000"/>
<rect x="358.95" y="345.9" width="3.4" height="1.6" fill="#000"/>
<rect x="358.95" y="365.3" width="3.4" height="1.6" fill="#000"/>
<rect x="358.95" y="336.4" width="2.1" height="1.6" fill="#000"/>
<rect x="358.95" y="355.9" width="2.1" height="1.6" fill="#000"/>
<rect x="490" y="373.6" width="1.6" height="3" fill="#000"/>
<rect x="424" y="374.6" width="1.6" height="2" fill="#000"/>
<rect x="555.4" y="374.6" width="1.6" height="2" fill="#000"/>
<rect x="358.95" y="414.8" width="3.4" height="1.6" fill="#000"/>
<rect x="358.95" y="434" width="2.1" height="1.6" fill="#000"/>
<rect x="367.2" y="451.35" width="1.6" height="3" fill="#000"/>
<rect x="474" y="451.35" width="1.6" height="3" fill="#000"/>
<rect x="420.8" y="452.35" width="1.6" height="2" fill="#000"/>
<rect x="527.6" y="452.35" width="1.6" height="2" fill="#000"/>
<line x1="500.4" y1="270" x2="500.4" y2="280.2" stroke="#000" stroke-width="1.15"/>
<path d="M500.4,265 L497.3,271 L503.5,271 Z" fill="#000"/>
<line x1="470.6" y1="349.2" x2="470.6" y2="359" stroke="#000" stroke-width="1.15"/>
<path d="M470.6,344.2 L467.5,350.2 L473.7,350.2 Z" fill="#000"/>
<line x1="460.9" y1="419.8" x2="460.9" y2="430.6" stroke="#000" stroke-width="1.15"/>
<path d="M460.9,414.8 L457.8,420.8 L464,420.8 Z" fill="#000"/>
<text transform="translate(49.15,495.65)" font-size="29.11">0</text>
<text transform="translate(49.2,387.6)" font-size="29.11">2</text>
<text transform="translate(49.3,279.1)" font-size="29.11">4</text>
<text transform="translate(49.25,171.6)" font-size="29.11">6</text>
<text transform="translate(48.9,63.55)" font-size="29.11">8</text>
<text transform="translate(55.2,518.75)" font-size="29.11">0.0</text>
<text transform="translate(188.1,518.6)" font-size="29.11">0.5</text>
<text transform="translate(321.7,518.7)" font-size="29.11">1.0</text>
<text transform="translate(454.05,518.65)" font-size="29.11">1.5</text>
<text transform="translate(227.5,558.55)" font-size="34.8" font-style="italic" stroke="#000" stroke-width="0.75">n</text>
<text transform="translate(245.35,569.4)" font-size="27.88" font-style="italic" stroke="#000" stroke-width="0.45">s</text>
<text transform="translate(264.1,558.95)" font-size="38.12">(</text>
<text transform="translate(277.45,558.5)" font-size="36.34">10</text>
<text transform="translate(312.1,543.0)" font-size="28.49">15</text>
<text transform="translate(349.05,558.75)" font-size="36.34">m</text>
<text transform="translate(376.6,543.2)" font-size="28.49">-</text>
<text transform="translate(385.65,543.1)" font-size="28.49">2</text>
<text transform="translate(399.55,558.6)" font-size="37.42">)</text>
<text transform="translate(25.4,292.3) rotate(-90)" font-size="36.57" font-style="italic">B</text>
<text transform="translate(36.85,268.95) rotate(-90)" font-size="34.98" font-style="italic">c</text>
<text transform="translate(25.65,243.5) rotate(-90)" font-size="36.57">(T)</text>
<text transform="translate(75.3,251.65)" font-size="24.15">0.0</text>
<text transform="translate(149.7,251.4)" font-size="24.15">0.2</text>
<text transform="translate(224.45,251.5)" font-size="24.15">0.4</text>
<text transform="translate(317.05,236.0)" font-size="24.15">0</text>
<text transform="translate(316.25,156.4)" font-size="24.15">1</text>
<text transform="translate(316.5,76.5)" font-size="24.15">2</text>
<text transform="translate(123.5,279.85)" font-size="23.2" font-style="italic" stroke="#000" stroke-width="0.45">n</text>
<text transform="translate(136.5,289.0)" font-size="20.53" font-style="italic" stroke="#000" stroke-width="0.3">s</text>
<text transform="translate(150.1,280.05)" font-size="25.1">(</text>
<text transform="translate(159.4,280.1)" font-size="25.1">10</text>
<text transform="translate(183.1,266.75)" font-size="14.2">15</text>
<text transform="translate(203.45,279.95)" font-size="25.1">m</text>
<text transform="translate(223.1,266.7)" font-size="14.2">-</text>
<text transform="translate(226.85,266.9)" font-size="14.2">2</text>
<text transform="translate(234.15,279.8)" font-size="25.1">)</text>
<text transform="translate(353.5,138.45) rotate(-90)" font-size="24.67" font-style="italic">B</text>
<text transform="translate(362.8,122.75) rotate(-90)" font-size="18.0" font-style="italic">c</text>
<text transform="translate(353.2,108.05) rotate(-90)" font-size="24.67">(T)</text>
<text transform="translate(324.25,281.1)" font-size="20.18">100</text>
<text transform="translate(334.1,299.7)" font-size="20.18">50</text>
<text transform="translate(355.0,321.25)" font-size="18.27">0</text>
<text transform="translate(435.3,321.4)" font-size="18.27">5</text>
<text transform="translate(511.85,321.15)" font-size="18.27">10</text>
<text transform="translate(482.4,291.95)" font-size="22.59" font-style="italic">B</text>
<text transform="translate(495.05,300.55)" font-size="14.46" font-style="italic">C</text>
<text transform="translate(521.3,287.15)" font-size="17.9">1.80</text>
<text transform="translate(323.55,333.95)" font-size="20.18">300</text>
<text transform="translate(323.8,353.15)" font-size="20.18">200</text>
<text transform="translate(323.95,372.35)" font-size="20.18">100</text>
<text transform="translate(355.4,395.85)" font-size="18.27">0</text>
<text transform="translate(485.75,395.45)" font-size="18.27">5</text>
<text transform="translate(522.1,368.35)" font-size="17.9">0.91</text>
<text transform="translate(308.2,391.55) rotate(-90)" font-size="25.96" font-style="italic">ρ</text>
<text transform="translate(307.75,375.15) rotate(-90)" font-size="23.97">(Ω)</text>
<text transform="translate(318.05,422.0)" font-size="18.27">4000</text>
<text transform="translate(317.6,460.1)" font-size="18.27">2000</text>
<text transform="translate(363.35,473.15)" font-size="18.27">0</text>
<text transform="translate(470.95,473.1)" font-size="18.27">1</text>
<text transform="translate(520.5,439.25)" font-size="17.9">0.19</text>
<text transform="translate(415.95,479.3)" font-size="20.3" font-style="italic">B</text>
<text transform="translate(435.2,479.65)" font-size="23.05">(T)</text>
</svg>
</body></html>
